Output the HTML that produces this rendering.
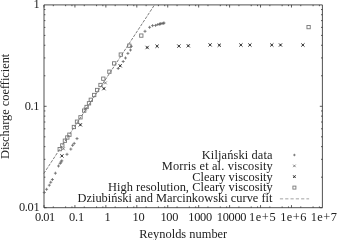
<!DOCTYPE html>
<html><head><meta charset="utf-8"><style>
html,body{margin:0;padding:0;background:#fff;width:337px;height:240px;overflow:hidden;}
svg{display:block;will-change:transform;}
text{font-family:"Liberation Serif",serif;}
</style></head><body>
<svg width="337" height="240" viewBox="0 0 337 240" font-family="Liberation Serif, serif" fill="#222"><path d="M44.0,4.9H322.4V207.7H44.0Z" fill="none" stroke="#333" stroke-width="0.85"/>
<path d="M44.00,207.7v-2.6M44.00,4.9v2.6M53.31,207.7v-1.3M53.31,4.9v1.3M65.62,207.7v-1.3M65.62,4.9v1.3M71.94,207.7v-1.3M71.94,4.9v1.3M74.93,207.7v-2.6M74.93,4.9v2.6M84.25,207.7v-1.3M84.25,4.9v1.3M96.55,207.7v-1.3M96.55,4.9v1.3M102.87,207.7v-1.3M102.87,4.9v1.3M105.87,207.7v-2.6M105.87,4.9v2.6M115.18,207.7v-1.3M115.18,4.9v1.3M127.49,207.7v-1.3M127.49,4.9v1.3M133.80,207.7v-1.3M133.80,4.9v1.3M136.80,207.7v-2.6M136.80,4.9v2.6M146.11,207.7v-1.3M146.11,4.9v1.3M158.42,207.7v-1.3M158.42,4.9v1.3M164.74,207.7v-1.3M164.74,4.9v1.3M167.73,207.7v-2.6M167.73,4.9v2.6M177.05,207.7v-1.3M177.05,4.9v1.3M189.35,207.7v-1.3M189.35,4.9v1.3M195.67,207.7v-1.3M195.67,4.9v1.3M198.67,207.7v-2.6M198.67,4.9v2.6M207.98,207.7v-1.3M207.98,4.9v1.3M220.29,207.7v-1.3M220.29,4.9v1.3M226.60,207.7v-1.3M226.60,4.9v1.3M229.60,207.7v-2.6M229.60,4.9v2.6M238.91,207.7v-1.3M238.91,4.9v1.3M251.22,207.7v-1.3M251.22,4.9v1.3M257.54,207.7v-1.3M257.54,4.9v1.3M260.53,207.7v-2.6M260.53,4.9v2.6M269.85,207.7v-1.3M269.85,4.9v1.3M282.15,207.7v-1.3M282.15,4.9v1.3M288.47,207.7v-1.3M288.47,4.9v1.3M291.47,207.7v-2.6M291.47,4.9v2.6M300.78,207.7v-1.3M300.78,4.9v1.3M313.09,207.7v-1.3M313.09,4.9v1.3M319.40,207.7v-1.3M319.40,4.9v1.3M44.0,207.70h2.6M322.4,207.70h-2.6M44.0,177.18h1.4M322.4,177.18h-1.4M44.0,159.32h1.4M322.4,159.32h-1.4M44.0,146.65h1.4M322.4,146.65h-1.4M44.0,136.82h1.4M322.4,136.82h-1.4M44.0,128.80h1.4M322.4,128.80h-1.4M44.0,122.01h1.4M322.4,122.01h-1.4M44.0,116.13h1.4M322.4,116.13h-1.4M44.0,110.94h1.4M322.4,110.94h-1.4M44.0,106.30h2.6M322.4,106.30h-2.6M44.0,75.78h1.4M322.4,75.78h-1.4M44.0,57.92h1.4M322.4,57.92h-1.4M44.0,45.25h1.4M322.4,45.25h-1.4M44.0,35.42h1.4M322.4,35.42h-1.4M44.0,27.40h1.4M322.4,27.40h-1.4M44.0,20.61h1.4M322.4,20.61h-1.4M44.0,14.73h1.4M322.4,14.73h-1.4M44.0,9.54h1.4M322.4,9.54h-1.4" stroke="#333" stroke-width="0.8" fill="none"/>
<line x1="43.8" y1="173.5" x2="154.5" y2="4.9" stroke="#5a5a5a" stroke-width="0.8" stroke-dasharray="3 1.3"/>
<rect x="58.05" y="147.45" width="3.3" height="3.3" fill="none" stroke="#777" stroke-width="0.9"/>
<rect x="60.65" y="143.75" width="3.3" height="3.3" fill="none" stroke="#777" stroke-width="0.9"/>
<rect x="63.25" y="139.05" width="3.3" height="3.3" fill="none" stroke="#777" stroke-width="0.9"/>
<rect x="65.65" y="135.85" width="3.3" height="3.3" fill="none" stroke="#777" stroke-width="0.9"/>
<rect x="67.75" y="133.05" width="3.3" height="3.3" fill="none" stroke="#777" stroke-width="0.9"/>
<rect x="72.25" y="125.35" width="3.3" height="3.3" fill="none" stroke="#777" stroke-width="0.9"/>
<rect x="75.35" y="120.05" width="3.3" height="3.3" fill="none" stroke="#777" stroke-width="0.9"/>
<rect x="78.85" y="115.65" width="3.3" height="3.3" fill="none" stroke="#777" stroke-width="0.9"/>
<rect x="82.55" y="108.95" width="3.3" height="3.3" fill="none" stroke="#777" stroke-width="0.9"/>
<rect x="84.95" y="105.35" width="3.3" height="3.3" fill="none" stroke="#777" stroke-width="0.9"/>
<rect x="87.35" y="101.65" width="3.3" height="3.3" fill="none" stroke="#777" stroke-width="0.9"/>
<rect x="89.15" y="98.15" width="3.3" height="3.3" fill="none" stroke="#777" stroke-width="0.9"/>
<rect x="92.55" y="93.35" width="3.3" height="3.3" fill="none" stroke="#777" stroke-width="0.9"/>
<rect x="95.45" y="88.35" width="3.3" height="3.3" fill="none" stroke="#777" stroke-width="0.9"/>
<rect x="98.85" y="83.35" width="3.3" height="3.3" fill="none" stroke="#777" stroke-width="0.9"/>
<rect x="101.65" y="77.05" width="3.3" height="3.3" fill="none" stroke="#777" stroke-width="0.9"/>
<rect x="107.75" y="70.05" width="3.3" height="3.3" fill="none" stroke="#777" stroke-width="0.9"/>
<rect x="112.55" y="61.75" width="3.3" height="3.3" fill="none" stroke="#777" stroke-width="0.9"/>
<rect x="119.15" y="52.95" width="3.3" height="3.3" fill="none" stroke="#777" stroke-width="0.9"/>
<rect x="127.65" y="44.05" width="3.3" height="3.3" fill="none" stroke="#777" stroke-width="0.9"/>
<rect x="139.65" y="33.95" width="3.3" height="3.3" fill="none" stroke="#777" stroke-width="0.9"/>
<rect x="306.95" y="25.45" width="3.3" height="3.3" fill="none" stroke="#777" stroke-width="0.9"/>
<path d="M42.80,192.50h3.0M44.30,191.00v3.0" stroke="#666" stroke-width="0.8"/>
<path d="M45.10,189.30h3.0M46.60,187.80v3.0" stroke="#666" stroke-width="0.8"/>
<path d="M47.80,185.20h3.0M49.30,183.70v3.0" stroke="#666" stroke-width="0.8"/>
<path d="M49.25,182.25h3.0M50.75,180.75v3.0" stroke="#666" stroke-width="0.8"/>
<path d="M50.90,179.50h3.0M52.40,178.00v3.0" stroke="#666" stroke-width="0.8"/>
<path d="M53.90,173.20h3.0M55.40,171.70v3.0" stroke="#666" stroke-width="0.8"/>
<path d="M57.00,166.00h3.0M58.50,164.50v3.0" stroke="#666" stroke-width="0.8"/>
<path d="M58.70,163.40h3.0M60.20,161.90v3.0" stroke="#666" stroke-width="0.8"/>
<path d="M59.50,162.00h3.0M61.00,160.50v3.0" stroke="#666" stroke-width="0.8"/>
<path d="M60.30,160.80h3.0M61.80,159.30v3.0" stroke="#666" stroke-width="0.8"/>
<path d="M65.50,154.30h3.0M67.00,152.80v3.0" stroke="#666" stroke-width="0.8"/>
<path d="M69.30,149.10h3.0M70.80,147.60v3.0" stroke="#666" stroke-width="0.8"/>
<path d="M71.10,145.30h3.0M72.60,143.80v3.0" stroke="#666" stroke-width="0.8"/>
<path d="M72.70,143.40h3.0M74.20,141.90v3.0" stroke="#666" stroke-width="0.8"/>
<path d="M75.50,138.60h3.0M77.00,137.10v3.0" stroke="#666" stroke-width="0.8"/>
<path d="M116.70,68.50h3.0M118.20,67.00v3.0" stroke="#666" stroke-width="0.8"/>
<path d="M121.70,61.50h3.0M123.20,60.00v3.0" stroke="#666" stroke-width="0.8"/>
<path d="M124.00,58.00h3.0M125.50,56.50v3.0" stroke="#666" stroke-width="0.8"/>
<path d="M126.40,53.40h3.0M127.90,51.90v3.0" stroke="#666" stroke-width="0.8"/>
<path d="M129.00,50.00h3.0M130.50,48.50v3.0" stroke="#666" stroke-width="0.8"/>
<path d="M129.80,46.30h3.0M131.30,44.80v3.0" stroke="#666" stroke-width="0.8"/>
<path d="M143.50,31.30h3.0M145.00,29.80v3.0" stroke="#666" stroke-width="0.8"/>
<path d="M148.10,27.30h3.0M149.60,25.80v3.0" stroke="#666" stroke-width="0.8"/>
<path d="M151.10,25.60h3.0M152.60,24.10v3.0" stroke="#666" stroke-width="0.8"/>
<path d="M154.10,25.40h3.0M155.60,23.90v3.0" stroke="#666" stroke-width="0.8"/>
<path d="M156.30,24.50h3.0M157.80,23.00v3.0" stroke="#666" stroke-width="0.8"/>
<path d="M158.00,24.10h3.0M159.50,22.60v3.0" stroke="#666" stroke-width="0.8"/>
<path d="M159.00,23.80h3.0M160.50,22.30v3.0" stroke="#666" stroke-width="0.8"/>
<path d="M160.50,23.50h3.0M162.00,22.00v3.0" stroke="#666" stroke-width="0.8"/>
<path d="M161.80,23.30h3.0M163.30,21.80v3.0" stroke="#666" stroke-width="0.8"/>
<path d="M162.50,23.00h3.0M164.00,21.50v3.0" stroke="#666" stroke-width="0.8"/>
<path d="M62.00,147.40l2.8,2.8M62.00,150.20l2.8,-2.8" stroke="#666" stroke-width="0.8"/>
<path d="M104.00,81.50l2.8,2.8M104.00,84.30l2.8,-2.8" stroke="#666" stroke-width="0.8"/>
<path d="M84.00,107.40l2.8,2.8M84.00,110.20l2.8,-2.8" stroke="#666" stroke-width="0.8"/>
<path d="M60.20,154.20l3.4,3.4M60.20,157.60l3.4,-3.4" stroke="#333" stroke-width="0.85"/><path d="M60.88,155.90h2.04M61.90,154.88v2.04" stroke="#333" stroke-width="0.765"/>
<path d="M78.70,123.10l3.4,3.4M78.70,126.50l3.4,-3.4" stroke="#333" stroke-width="0.85"/><path d="M79.38,124.80h2.04M80.40,123.78v2.04" stroke="#333" stroke-width="0.765"/>
<path d="M102.20,86.90l3.4,3.4M102.20,90.30l3.4,-3.4" stroke="#333" stroke-width="0.85"/><path d="M102.88,88.60h2.04M103.90,87.58v2.04" stroke="#333" stroke-width="0.765"/>
<path d="M118.50,64.10l3.4,3.4M118.50,67.50l3.4,-3.4" stroke="#333" stroke-width="0.85"/><path d="M119.18,65.80h2.04M120.20,64.78v2.04" stroke="#333" stroke-width="0.765"/>
<path d="M145.50,45.80l3.4,3.4M145.50,49.20l3.4,-3.4" stroke="#333" stroke-width="0.85"/><path d="M146.18,47.50h2.04M147.20,46.48v2.04" stroke="#333" stroke-width="0.765"/>
<path d="M155.40,44.50l3.4,3.4M155.40,47.90l3.4,-3.4" stroke="#333" stroke-width="0.85"/><path d="M156.08,46.20h2.04M157.10,45.18v2.04" stroke="#333" stroke-width="0.765"/>
<path d="M177.20,44.40l3.4,3.4M177.20,47.80l3.4,-3.4" stroke="#333" stroke-width="0.85"/><path d="M177.88,46.10h2.04M178.90,45.08v2.04" stroke="#333" stroke-width="0.765"/>
<path d="M186.60,44.10l3.4,3.4M186.60,47.50l3.4,-3.4" stroke="#333" stroke-width="0.85"/><path d="M187.28,45.80h2.04M188.30,44.78v2.04" stroke="#333" stroke-width="0.765"/>
<path d="M208.40,43.20l3.4,3.4M208.40,46.60l3.4,-3.4" stroke="#333" stroke-width="0.85"/><path d="M209.08,44.90h2.04M210.10,43.88v2.04" stroke="#333" stroke-width="0.765"/>
<path d="M217.60,43.50l3.4,3.4M217.60,46.90l3.4,-3.4" stroke="#333" stroke-width="0.85"/><path d="M218.28,45.20h2.04M219.30,44.18v2.04" stroke="#333" stroke-width="0.765"/>
<path d="M239.20,43.30l3.4,3.4M239.20,46.70l3.4,-3.4" stroke="#333" stroke-width="0.85"/><path d="M239.88,45.00h2.04M240.90,43.98v2.04" stroke="#333" stroke-width="0.765"/>
<path d="M248.20,43.30l3.4,3.4M248.20,46.70l3.4,-3.4" stroke="#333" stroke-width="0.85"/><path d="M248.88,45.00h2.04M249.90,43.98v2.04" stroke="#333" stroke-width="0.765"/>
<path d="M270.10,43.30l3.4,3.4M270.10,46.70l3.4,-3.4" stroke="#333" stroke-width="0.85"/><path d="M270.78,45.00h2.04M271.80,43.98v2.04" stroke="#333" stroke-width="0.765"/>
<path d="M278.80,43.30l3.4,3.4M278.80,46.70l3.4,-3.4" stroke="#333" stroke-width="0.85"/><path d="M279.48,45.00h2.04M280.50,43.98v2.04" stroke="#333" stroke-width="0.765"/>
<path d="M301.20,43.30l3.4,3.4M301.20,46.70l3.4,-3.4" stroke="#333" stroke-width="0.85"/><path d="M301.88,45.00h2.04M302.90,43.98v2.04" stroke="#333" stroke-width="0.765"/>
<path d="M293.15,155.00h2.5M294.40,153.75v2.5" stroke="#666" stroke-width="0.8"/>
<path d="M293.15,164.65l2.5,2.5M293.15,167.15l2.5,-2.5" stroke="#666" stroke-width="0.8"/>
<path d="M293.00,175.20l2.8,2.8M293.00,178.00l2.8,-2.8" stroke="#333" stroke-width="0.85"/><path d="M293.56,176.60h1.68M294.40,175.76v1.68" stroke="#333" stroke-width="0.765"/>
<rect x="292.90" y="186.10" width="3.0" height="3.0" fill="none" stroke="#777" stroke-width="0.9"/>
<line x1="279.9" y1="198.85" x2="309.1" y2="198.85" stroke="#999" stroke-width="0.9" stroke-dasharray="3.2 2.1"/>
<text id="yl1" x="0" y="0" font-size="12.4" transform="translate(33.62 8.00) scale(1 1.06)">1</text>
<text id="yl01" x="0" y="0" textLength="14.68" lengthAdjust="spacing" font-size="12.4" transform="translate(24.75 109.50) scale(1 1.06)">0.1</text>
<text id="yl001" x="0" y="0" textLength="20.61" lengthAdjust="spacing" font-size="12.4" transform="translate(19.00 210.50) scale(1 1.06)">0.01</text>
<text id="xl001" x="0" y="0" textLength="20.12" lengthAdjust="spacing" font-size="12.4" transform="translate(35.00 220.90) scale(1 1.06)">0.01</text>
<text id="xl01" x="0" y="0" textLength="15.10" lengthAdjust="spacing" font-size="12.4" transform="translate(69.00 220.90) scale(1 1.06)">0.1</text>
<text id="xl1" x="0" y="0" font-size="12.4" transform="translate(104.55 220.90) scale(1 1.06)">1</text>
<text id="xl10" x="0" y="0" textLength="12.29" lengthAdjust="spacing" font-size="12.4" transform="translate(132.50 220.90) scale(1 1.06)">10</text>
<text id="xl100" x="0" y="0" textLength="17.90" lengthAdjust="spacing" font-size="12.4" transform="translate(160.50 220.90) scale(1 1.06)">100</text>
<text id="xl1000" x="0" y="0" textLength="23.87" lengthAdjust="spacing" font-size="12.4" transform="translate(188.25 220.90) scale(1 1.06)">1000</text>
<text id="xl10000" x="0" y="0" textLength="29.83" lengthAdjust="spacing" font-size="12.4" transform="translate(216.75 220.90) scale(1 1.06)">10000</text>
<text id="xl1e5" x="0" y="0" textLength="26.63" lengthAdjust="spacing" font-size="12.4" transform="translate(249.00 220.90) scale(1 1.06)">1e+5</text>
<text id="xl1e6" x="0" y="0" textLength="26.12" lengthAdjust="spacing" font-size="12.4" transform="translate(280.25 220.90) scale(1 1.06)">1e+6</text>
<text id="xl1e7" x="0" y="0" textLength="26.12" lengthAdjust="spacing" font-size="12.4" transform="translate(310.75 220.90) scale(1 1.06)">1e+7</text>
<text id="xlab" x="0" y="0" textLength="88.01" lengthAdjust="spacing" font-size="12.4" transform="translate(139.25 237.50) scale(1 1.06)">Reynolds number</text>
<text id="leg1" x="0" y="0" textLength="70.78" lengthAdjust="spacing" font-size="12.4" transform="translate(201.75 159.00) scale(1 1.06)">Kiljański data</text>
<text id="leg2" x="0" y="0" textLength="111.01" lengthAdjust="spacing" font-size="12.4" transform="translate(161.75 169.80) scale(1 1.06)">Morris et al. viscosity</text>
<text id="leg3" x="0" y="0" textLength="80.52" lengthAdjust="spacing" font-size="12.4" transform="translate(192.25 180.55) scale(1 1.06)">Cleary viscosity</text>
<text id="leg4" x="0" y="0" textLength="164.75" lengthAdjust="spacing" font-size="12.4" transform="translate(108.00 190.80) scale(1 1.06)">High resolution, Cleary viscosity</text>
<text id="leg5" x="0" y="0" textLength="195.01" lengthAdjust="spacing" font-size="12.4" transform="translate(77.50 202.05) scale(1 1.06)">Dziubiński and Marcinkowski curve fit</text>
<text id="ylab" x="0" y="0" textLength="105.26" lengthAdjust="spacing" font-size="12.4" transform="translate(8.75 159.00) rotate(-90) scale(1 1.06)">Discharge coefficient</text></svg>
</body></html>
